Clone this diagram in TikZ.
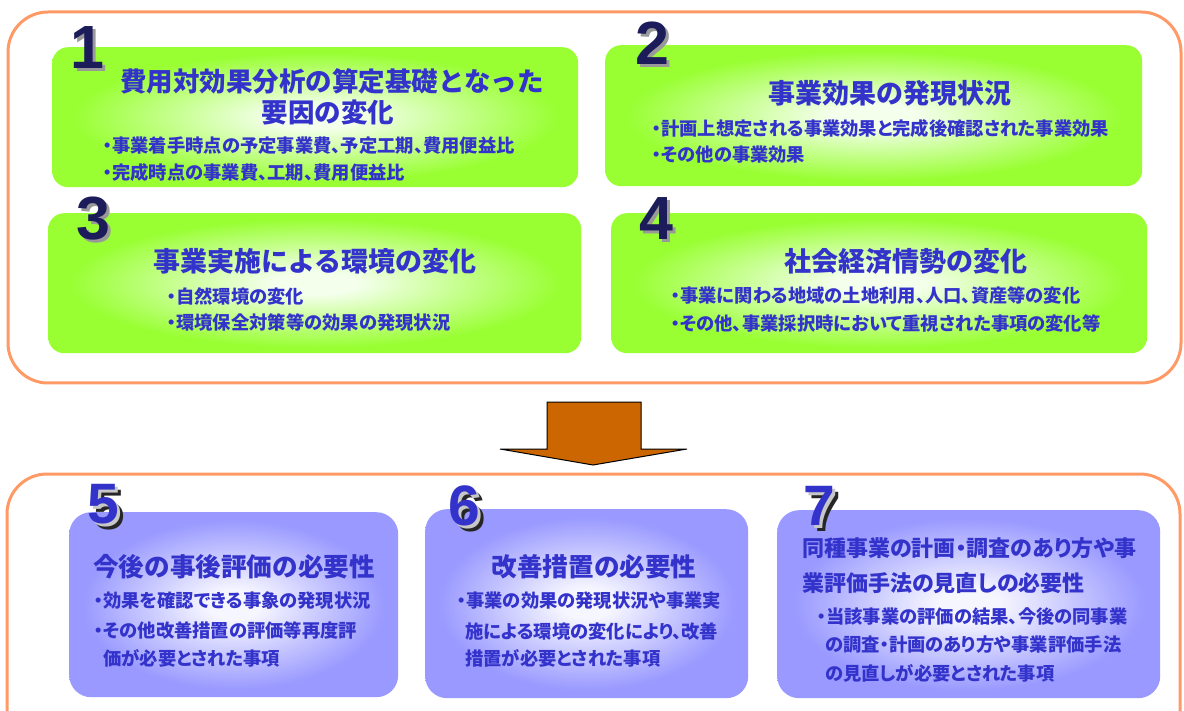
\documentclass[tikz,border=0pt]{standalone}
\usepackage{fontspec}
\setmainfont{Noto Sans CJK JP}[RawFeature={+palt}]
\newfontfamily\jpfull{Noto Sans CJK JP}
\newfontfamily\numfont{Liberation Sans}
\definecolor{frameorange}{HTML}{FF9966}
\definecolor{gedge}{HTML}{99FF33}
\definecolor{gcenter}{HTML}{F4FFEC}
\definecolor{pedge}{HTML}{9999FF}
\definecolor{pcenter}{HTML}{F6F6FF}
\definecolor{txtblue}{HTML}{3333CC}
\definecolor{navy}{HTML}{1C1C5A}
\definecolor{arroworange}{HTML}{CC6600}
\pgfdeclareradialshading{greenglow}{\pgfpoint{0bp}{0bp}}{color(0bp)=(gcenter); color(4bp)=(gcenter); color(23bp)=(gedge); color(50bp)=(gedge)}
\pgfdeclareradialshading{purpleglow}{\pgfpoint{0bp}{0bp}}{color(0bp)=(pcenter); color(4bp)=(pcenter); color(23bp)=(pedge); color(50bp)=(pedge)}
\newcommand{\flatdigit}[1]{\makebox[0pt][l]{\hspace{3pt}\raisebox{-3pt}{\textcolor{black!40}{#1}}}\textcolor{navy}{#1}}
\newcommand{\deepdigit}[1]{\makebox[0pt][l]{\hspace{6pt}\raisebox{-6pt}{\textcolor{black!85}{#1}}}\makebox[0pt][l]{\hspace{3pt}\raisebox{-3pt}{\textcolor{black!22}{#1}}}\textcolor{txtblue}{#1}}
\tikzset{
  frame/.style={draw=frameorange, line width=3pt, rounded corners=40pt},
  gbox/.style={shading=greenglow, rounded corners=16pt, anchor=north west, inner sep=0pt},
  pbox/.style={shading=purpleglow, rounded corners=22pt, anchor=north west, inner sep=0pt},
  ttl/.style={text=txtblue, inner sep=0pt},
  ttlA/.style={ttl, font=\jpfull\fontsize{26.5}{30}\selectfont\bfseries},
  ttlB/.style={ttl, font=\jpfull\fontsize{27}{30}\selectfont\bfseries},
  ttlC/.style={ttl, font=\jpfull\fontsize{25.6}{30}\selectfont\bfseries},
  ttlD/.style={ttl, anchor=west, font=\fontsize{22}{26}\selectfont\bfseries},
  bul/.style={text=txtblue, font=\fontsize{18.3}{20}\selectfont\bfseries, inner sep=0pt, anchor=west},
  numA/.style={font=\numfont\fontsize{61}{62}\selectfont\bfseries, inner sep=0pt, anchor=north},
  numB/.style={font=\numfont\fontsize{57}{58}\selectfont\bfseries, inner sep=0pt, anchor=north},
  bigarrow/.style={fill=arroworange, draw=black, line width=1pt, line join=miter},
}
\begin{document}
\begin{tikzpicture}[x=1pt,y=-1pt]
\useasboundingbox (0,0) rectangle (1184,711);
\fill[white] (0,0) rectangle (1184,711);
% frames
\draw[frame] (8,12) rectangle (1181,383);
\draw[frame] (7,474) rectangle (1180,760);
% green boxes
\node[gbox, minimum width=526pt, minimum height=140pt] (b1) at (52,47) {};
\node[gbox, minimum width=537pt, minimum height=141pt] (b2) at (605,45) {};
\node[gbox, minimum width=533pt, minimum height=140pt] (b3) at (48,213) {};
\node[gbox, minimum width=536pt, minimum height=140pt] (b4) at (611,213) {};
% purple boxes
\node[pbox, minimum width=329pt, minimum height=185pt] (b5) at (69,512) {};
\node[pbox, minimum width=323pt, minimum height=189pt] (b6) at (425,509) {};
\node[pbox, minimum width=383pt, minimum height=188pt] (b7) at (777,510) {};
% numbers
\node[numA] (n1) at (87,26) {\flatdigit{1}};
\node[numA] (n2) at (652,22) {\flatdigit{2}};
\node[numA] (n3) at (93,197) {\flatdigit{3}};
\node[numA] (n4) at (656,197) {\flatdigit{4}};
\node[numB] (n5) at (103,484) {\deepdigit{5}};
\node[numB] (n6) at (464,485) {\deepdigit{6}};
\node[numB] (n7) at (819,486) {\deepdigit{7}};
% box 1
\node[ttlA] (t1a) at (332,81) {費用対効果分析の算定基礎となった};
\node[ttlA] (t1b) at (328,112) {要因の変化};
\node[bul] (t1c) at (103,146) {・事業着手時点の予定事業費、予定工期、費用便益比};
\node[bul] (t1d) at (103,173) {・完成時点の事業費、工期、費用便益比};
% box 2
\node[ttlB] (t2a) at (890,93) {事業効果の発現状況};
\node[bul] (t2b) at (652,129) {・計画上想定される事業効果と完成後確認された事業効果};
\node[bul] (t2c) at (652,155) {・その他の事業効果};
% box 3
\node[ttlB] (t3a) at (315,261) {事業実施による環境の変化};
\node[bul] (t3b) at (167,296) {・自然環境の変化};
\node[bul] (t3c) at (167,323) {・環境保全対策等の効果の発現状況};
% box 4
\node[ttlB] (t4a) at (906,261) {社会経済情勢の変化};
\node[bul] (t4b) at (671,296) {・事業に関わる地域の土地利用、人口、資産等の変化};
\node[bul] (t4c) at (671,323) {・その他、事業採択時において重視された事項の変化等};
% arrow
\draw[bigarrow] (547,402) -- (641,402) -- (641,449) -- (687,449) -- (593,465) -- (500,449) -- (547,449) -- cycle;
% box 5
\node[ttlC] (t5a) at (234,567) {今後の事後評価の必要性};
\node[bul] (t5b) at (94,601) {・効果を確認できる事象の発現状況};
\node[bul] (t5c) at (94,630) {・その他改善措置の評価等再度評};
\node[bul] (t5d) at (103,658) {価が必要とされた事項};
% box 6
\node[ttlC] (t6a) at (594,567) {改善措置の必要性};
\node[bul] (t6b) at (457,601) {・事業の効果の発現状況や事業実};
\node[bul] (t6c) at (465,632) {施による環境の変化により、改善};
\node[bul] (t6d) at (465,658) {措置が必要とされた事項};
% box 7
\node[ttlD] (t7a) at (802,548) {同種事業の計画・調査のあり方や事};
\node[ttlD] (t7b) at (802,583) {業評価手法の見直しの必要性};
\node[bul] (t7c) at (817,617) {・当該事業の評価の結果、今後の同事業};
\node[bul] (t7d) at (825,645) {の調査・計画のあり方や事業評価手法};
\node[bul] (t7e) at (825,673) {の見直しが必要とされた事項};
\end{tikzpicture}
\end{document}
